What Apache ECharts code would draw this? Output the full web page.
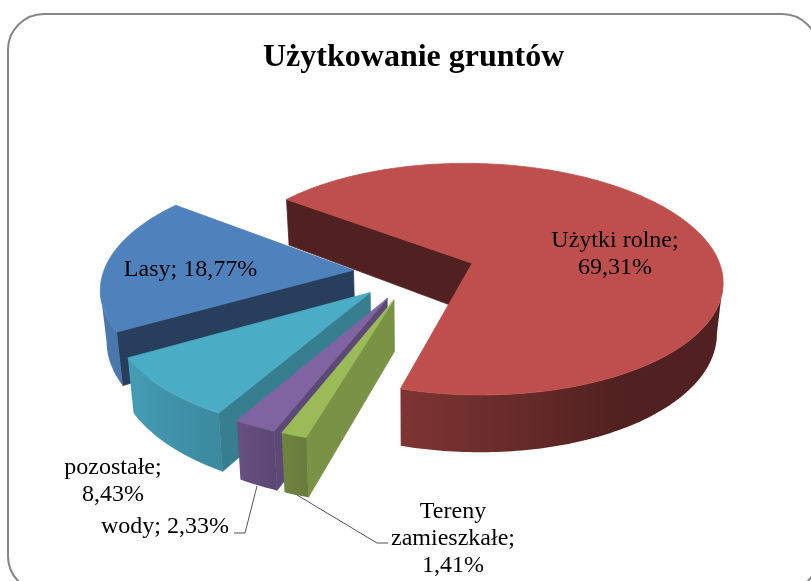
<!DOCTYPE html>
<html><head><meta charset="utf-8">
<style>html,body{margin:0;padding:0;background:#fff}#c{width:811px;height:581px}</style>
<script src="https://cdn.jsdelivr.net/npm/echarts@6/dist/echarts.min.js"></script>
</head><body><div id="c"></div>
<script>
const titleText = 'Użytkowanie gruntów';
// Drawing order: back to front. Clockwise on the pie: first name, then the list read backwards.
const names = ['Użytki rolne', 'Lasy', 'pozostałe', 'wody', 'Tereny zamieszkałe'];
const values = [69.31, 18.77, 8.43, 2.33, 1.41];
const colors = ['#BE4F4D', '#4F81BD', '#4BACC6', '#8064A2', '#9BBB59'];
const wallShade = [0.42, 0.49, 0.73, 0.73, 0.78];

const FONT = '"Liberation Serif","Times New Roman",serif';
const C = {x: 414.5, y: 272}, R = 250, S = 116, K = 0.1385, E = 0.245, D = 50, FIRST = 307.5;
const total = values.reduce((a, b) => a + b, 0);
const rad = d => d * Math.PI / 180;

function project(u, v) {
  const w = 1 - K * v;
  return {x: C.x + R * u / w, y: C.y + S * v / w, w};
}
function lower(p) { return [C.x + (p.x - C.x) * 0.98, p.y + D / p.w]; }
function shade(hex, f) {
  const n = parseInt(hex.slice(1), 16);
  const c = [n >> 16 & 255, n >> 8 & 255, n & 255].map(x => Math.round(x * f));
  return 'rgb(' + c.join(',') + ')';
}
function rimShade(theta) {
  const t = ((theta % 360) + 360) % 360;
  const pts = [[0, .42], [150, .42], [196, .66], [210, .8], [240, .92], [360, .95]];
  for (let i = 1; i < pts.length; i++) {
    if (t <= pts[i][0]) {
      const a = pts[i - 1], b = pts[i];
      return a[1] + (b[1] - a[1]) * (t - a[0]) / (b[0] - a[0]);
    }
  }
  return .95;
}
function sliceRange(i) {
  const deg = v => v / total * 360;
  if (i === 0) return [FIRST, FIRST + deg(values[0])];
  let end = FIRST;
  for (let j = 1; j < i; j++) end -= deg(values[j]);
  return [end - deg(values[i]), end];
}
function poly(points, fill) {
  return {type: 'polygon', shape: {points}, style: {fill, stroke: fill, lineWidth: 0.8}};
}
function rimWall(front, col) {
  // one polygon for the whole facing wall, shaded left to right along the rim
  const xs = front.map(p => p.x);
  const x0 = Math.min(...xs), x1 = Math.max(...xs);
  const stops = front.slice().sort((a, b) => a.x - b.x).map(p => ({
    offset: x1 > x0 ? (p.x - x0) / (x1 - x0) : 0, color: shade(col, rimShade(p.a))
  }));
  const pts = front.map(p => [p.x, p.y]).concat(front.slice().reverse().map(lower));
  return {type: 'polygon', shape: {points: pts}, style: {
    fill: new echarts.graphic.LinearGradient(0, 0, 1, 0, stops), stroke: null}};
}
function renderSlice(params, api) {
  const i = params.dataIndex;
  const [a0, a1] = sliceRange(i);
  const mid = rad((a0 + a1) / 2);
  const ou = E * Math.sin(mid), ov = -E * Math.cos(mid);
  const col = colors[i];
  const apex = project(ou, ov);
  const rim = [];
  const n = Math.max(2, Math.ceil(a1 - a0));
  for (let s = 0; s <= n; s++) {
    const a = a0 + (a1 - a0) * s / n, t = rad(a);
    rim.push(Object.assign(project(ou + Math.sin(t), ov - Math.cos(t)), {a}));
  }
  const kids = [];
  const wall = shade(col, wallShade[i]);
  const first = rim[0], last = rim[rim.length - 1];
  if (first.x < apex.x) kids.push(poly([[first.x, first.y], [apex.x, apex.y], lower(apex), lower(first)], wall));
  if (last.x > apex.x) kids.push(poly([[last.x, last.y], [apex.x, apex.y], lower(apex), lower(last)], wall));
  // clockwise on screen and heading left: the wall faces the viewer
  const front = rim.filter((p, s) => (s < n && rim[s + 1].x < p.x) || (s > 0 && p.x < rim[s - 1].x));
  if (front.length > 1) kids.push(rimWall(front, col));
  const top = [[apex.x, apex.y]].concat(rim.map(p => [p.x, p.y]));
  kids.push(poly(top, col));
  return {type: 'group', children: kids};
}
const pct = i => values[i].toFixed(2).replace('.', ',') + '%';
function label(text, x, y, align) {
  return {type: 'text', z: 10, x, y, style: {text, font: '24px ' + FONT, fill: '#000',
    align: align || 'center', verticalAlign: 'middle', lineHeight: 27}};
}
function leader(points) {
  return {type: 'polyline', z: 9, shape: {points}, style: {fill: null, stroke: '#555', lineWidth: 1}};
}
const chart = echarts.init(document.getElementById('c'), null, {renderer: 'canvas'});
chart.setOption({
  animation: false,
  backgroundColor: '#fff',
  title: {text: titleText, left: 258, top: 37,
    textStyle: {fontFamily: FONT, fontWeight: 'bold', fontSize: 32, color: '#000'}},
  graphic: [
    {type: 'rect', z: 0, shape: {x: 8, y: 14, width: 810, height: 578, r: 36},
      style: {fill: '#fff', stroke: '#868686', lineWidth: 2}},
    label(names[0] + ';\n' + pct(0), 615, 254),
    label(names[1] + '; ' + pct(1), 190.5, 270),
    label(names[2] + ';\n' + pct(2), 113, 481),
    label(names[3] + '; ' + pct(3), 165, 527),
    label('Tereny\nzamieszkałe;\n' + pct(4), 453, 539),
    leader([[257, 486], [245, 533], [234, 533]]),
    leader([[297, 495], [377, 543], [388, 543]])
  ],
  series: [{type: 'custom', coordinateSystem: 'none', z: 5, renderItem: renderSlice,
    data: values.map((v, i) => ({name: names[i], value: v}))}]
});
</script></body></html>
